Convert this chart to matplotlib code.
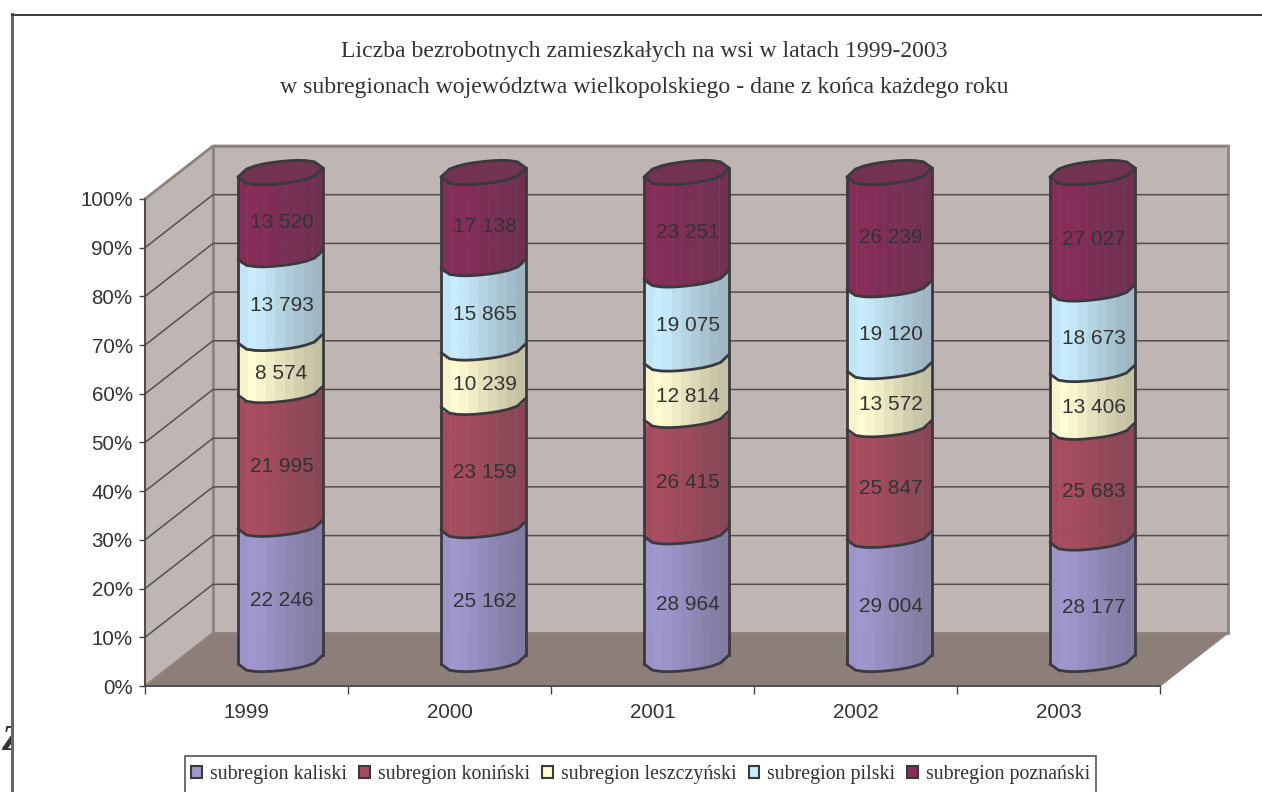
"""Stacked 100% cylinder chart: rural unemployed by subregion, Wielkopolska 1999-2003."""

import matplotlib
matplotlib.use('Agg')
import matplotlib.pyplot as plt
import numpy as np
from matplotlib.patches import Patch, Polygon, Rectangle

years = ['1999', '2000', '2001', '2002', '2003']
series_names = ['subregion kaliski', 'subregion koniński', 'subregion leszczyński',
                'subregion pilski', 'subregion poznański']
kaliski = [22246, 25162, 28964, 29004, 28177]
koninski = [21995, 23159, 26415, 25847, 25683]
leszczynski = [8574, 10239, 12814, 13572, 13406]
pilski = [13793, 15865, 19075, 19120, 18673]
poznanski = [13520, 17138, 23251, 26239, 27027]
series_colors = ['#A097CE', '#A84C5F', '#FFFBD2', '#C8ECFD', '#862D5A']
percent_ticks = [0, 10, 20, 30, 40, 50, 60, 70, 80, 90, 100]
title_lines = ['Liczba bezrobotnych zamieszkałych na wsi w latach 1999-2003',
               'w subregionach województwa wielkopolskiego - dane z końca każdego roku']

W, H = 1262, 792
WALL = '#BFB5B2'
FLOOR = '#8C7E79'
EDGE = '#8F8480'
DARK = '#3A3A3E'
TEXT = '#333333'
SANS = 'Liberation Sans'
SERIF = 'Liberation Serif'

# axes = the front plane of the 3D box, depth is a fixed shift in data units
plot_left, plot_right, plot_bottom, plot_top = 145, 1160, 686, 199
DX = 68 / ((plot_right - plot_left) / 5)
DY = 53 / ((plot_bottom - plot_top) / 100)
HALF_W = 42.5 / ((plot_right - plot_left) / 5)
ELL_B = 11 / ((plot_bottom - plot_top) / 100)
ELL_S = 4.5 / ((plot_bottom - plot_top) / 100)
SHADE = [0.96, 1.0, 0.97, 0.92, 0.87, 0.82, 0.77, 0.73, 0.70]


def shade(color, factor):
    # darken towards grey, the right side of the cylinders goes dull not black
    rgb = np.array(matplotlib.colors.to_rgb(color))
    return tuple(np.clip(rgb * factor + (1 - factor) * 0.235, 0, 1))


def bulge(u):
    # slightly flattened ellipse profile, the reference rims are faceted
    return np.sqrt(np.clip(1 - np.abs(u) ** 2.4, 0, 1))


def rim(cx, level, sign, n=11):
    # sign=-1 is the front half, sign=1 the back half
    u = np.linspace(-1, 1, n)
    y = level + ELL_S * u + sign * ELL_B * bulge(u)
    return cx + HALF_W * u, y


def draw_cylinder_part(ax, cx, low, high, color, z):
    edges = np.linspace(-1, 1, len(SHADE) + 1)
    for j, f in enumerate(SHADE):
        u = np.linspace(edges[j], edges[j + 1], 4)
        x = cx + HALF_W * u
        y_low = low + ELL_S * u - ELL_B * bulge(u)
        y_high = high + ELL_S * u - ELL_B * bulge(u)
        pts = np.vstack([np.column_stack([x, y_low]),
                         np.column_stack([x[::-1], y_high[::-1]])])
        ax.add_patch(Polygon(pts, closed=True, facecolor=shade(color, f), edgecolor=shade(color, f),
                             linewidth=0.3, zorder=z, clip_on=False))


fig = plt.figure(figsize=(W / 100, H / 100), dpi=100, facecolor='white')
ax = fig.add_axes([plot_left / W, 1 - plot_bottom / H, (plot_right - plot_left) / W,
                   (plot_bottom - plot_top) / H])
ax.set_xlim(0, len(years))
ax.set_ylim(0, 100)
ax.patch.set_visible(False)

# box: side wall, back wall, floor
ax.add_patch(Polygon([(0, 0), (DX, DY), (DX, 100 + DY), (0, 100)], closed=True, facecolor=WALL,
                     edgecolor=EDGE, linewidth=1.5, zorder=1, clip_on=False))
ax.add_patch(Polygon([(DX, DY), (5 + DX, DY), (5 + DX, 100 + DY), (DX, 100 + DY)], closed=True,
                     facecolor=WALL, edgecolor=EDGE, linewidth=2, zorder=1, clip_on=False))
ax.add_patch(Polygon([(0, 0), (DX, DY), (5 + DX, DY), (5, 0)], closed=True, facecolor=FLOOR,
                     edgecolor=EDGE, linewidth=1, zorder=1.5, clip_on=False))
for p in percent_ticks[1:-1]:
    ax.plot([0, DX, 5 + DX], [p, p + DY, p + DY], color='#55504F', lw=1.1, zorder=2, clip_on=False)
ax.plot([0, DX, 5 + DX], [100, 100 + DY, 100 + DY], color=EDGE, lw=2, zorder=2.1, clip_on=False)

# cylinders
table = np.array([kaliski, koninski, leszczynski, pilski, poznanski], dtype=float)
shares = table / table.sum(axis=0) * 100
for i in range(len(years)):
    cx = i + 0.5 + DX / 2
    bottom = 0.0
    for k, color in enumerate(series_colors):
        low = bottom + DY / 2
        high = bottom + shares[k, i] + DY / 2
        draw_cylinder_part(ax, cx, low, high, color, 3 + k * 0.1)
        rx, ry = rim(cx, low, -1)
        if k == 0:
            ax.plot(rx, ry, color=DARK, lw=2, zorder=4, clip_on=False, solid_capstyle='round')
        rx, ry = rim(cx, high, -1)
        ax.plot(rx, ry, color=DARK, lw=2, zorder=4, clip_on=False, solid_capstyle='round')
        ax.text(cx + 0.005, (low + high) / 2 - 1.8, f'{int(table[k, i]):,}'.replace(',', ' '),
                fontsize=15, family=SANS, color=TEXT, ha='center', va='center', zorder=5)
        bottom += shares[k, i]
    fx, fy = rim(cx, 100 + DY / 2, -1)
    bx, by = rim(cx, 100 + DY / 2, 1)
    ax.add_patch(Polygon(np.vstack([np.column_stack([fx, fy]), np.column_stack([bx[::-1], by[::-1]])]),
                         closed=True, facecolor='#723252', edgecolor=DARK, linewidth=2, zorder=4,
                         clip_on=False, joinstyle='round'))
    for side in (-1, 1):
        sx = cx + side * HALF_W
        ax.plot([sx, sx], [DY / 2 + side * ELL_S, 100 + DY / 2 + side * ELL_S], color=DARK, lw=2,
                zorder=4, clip_on=False)

# axes furniture
for name in ('top', 'right'):
    ax.spines[name].set_visible(False)
for name in ('left', 'bottom'):
    ax.spines[name].set_color('#444444')
    ax.spines[name].set_linewidth(1.2)
    ax.spines[name].set_zorder(2.5)
ax.set_yticks(percent_ticks)
ax.set_yticklabels([f'{p}%' for p in percent_ticks], fontsize=14.8, family=SANS, color=TEXT)
ax.tick_params(axis='y', length=6 * 0.72, width=1, color='#444444', pad=4.5)
ax.set_xticks(range(len(years) + 1))
ax.set_xticklabels([])
ax.tick_params(axis='x', length=8 * 0.72, width=1, color='#444444')
ax.set_xticks([i + 0.5 for i in range(len(years))], minor=True)
ax.set_xticklabels(years, minor=True, fontsize=14.8, family=SANS, color=TEXT)
ax.tick_params(axis='x', which='minor', length=0, pad=12)

# title
for line, y_px in zip(title_lines, (52, 87)):
    fig.text(644.5 / W, 1 - y_px / H, line, fontsize=17.1, family=SERIF, color=TEXT,
             ha='center', va='center')

# outer chart frame, runs off the page
fig.add_artist(plt.Line2D([12 / W, 12 / W], [0, 1 - 14 / H], color='#666666', lw=2.2))
fig.add_artist(plt.Line2D([12 / W, 1], [1 - 14.5 / H, 1 - 14.5 / H], color='#3C3C3C', lw=1.4))

# stray letter from the page behind the chart, only its left edge shows
fig.text(1 / W, 1 - 741 / H, 'Z', fontsize=25, family=SERIF, fontweight='bold', style='italic',
         color=TEXT, ha='left', va='center', zorder=-2)
fig.add_artist(Rectangle((12 / W, 1 - 770 / H), 40 / W, 60 / H, transform=fig.transFigure,
                         facecolor='white', edgecolor='none', zorder=-1))

# legend, its box is cut off by the page bottom
fig.add_artist(Rectangle((185 / W, -10 / H), 911 / W, (792 - 756 + 10) / H, transform=fig.transFigure,
                         facecolor='white', edgecolor='#555555', linewidth=1.2))
handles = [Patch(facecolor=c, edgecolor=DARK, linewidth=1.5) for c in series_colors]
leg = fig.legend(handles, series_names, loc='center', bbox_to_anchor=(641 / W, 1 - 775 / H),
                 ncol=5, frameon=False, handlelength=0.55, handleheight=0.55,
                 handletextpad=0.4, columnspacing=0.6, borderpad=0, labelcolor=TEXT,
                 prop={'family': SERIF, 'size': 14.3})

fig.savefig('out.png', dpi=100, facecolor='white')
plt.close(fig)
